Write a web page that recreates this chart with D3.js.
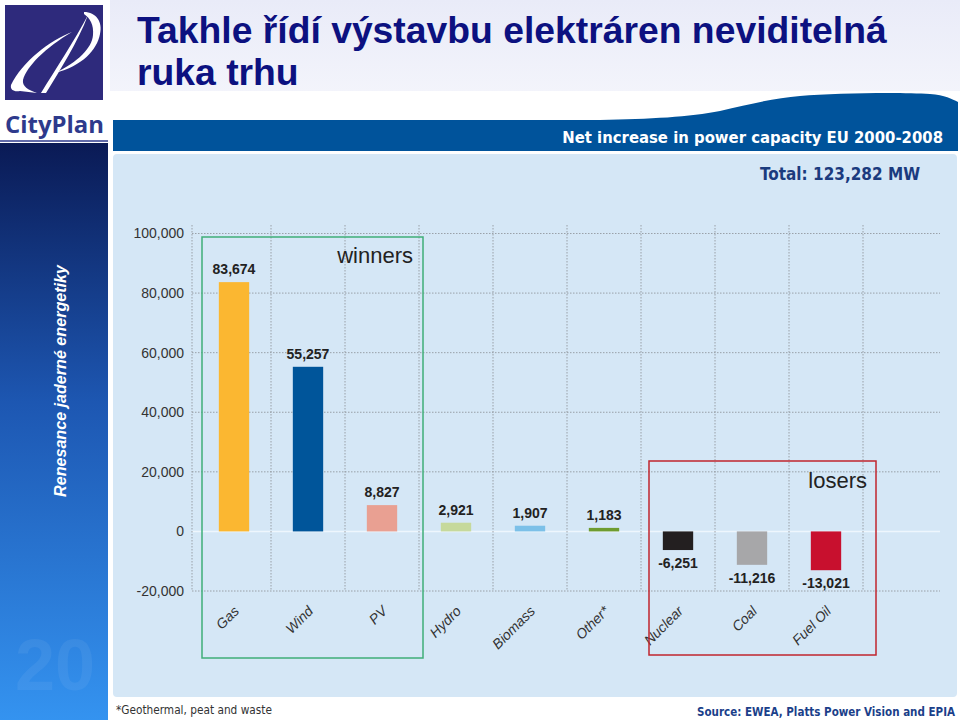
<!DOCTYPE html>
<html><head><meta charset="utf-8">
<script src="https://cdn.jsdelivr.net/npm/d3@7"></script>
<style>html,body{margin:0;padding:0;background:#fff;}svg{display:block;}</style>
</head><body>
<script>
const categories = ["Gas","Wind","PV","Hydro","Biomass","Other*","Nuclear","Coal","Fuel Oil"];
const values = [83674,55257,8827,2921,1907,1183,-6251,-11216,-13021];
const barColors = ["#fbb731","#00559a","#e9a092","#c6d99c","#7cc0e8","#6e9c2f","#231f20","#a7a7a9","#c8102e"];
const yTicks = [-20000,0,20000,40000,60000,80000,100000];
const titleLines = ["Takhle řídí výstavbu elektráren neviditelná","ruka trhu"];
const headerText = "Net increase in power capacity EU 2000-2008";
const totalText = "Total: 123,282 MW";
const footnote = "*Geothermal, peat and waste";
const sourceText = "Source: EWEA, Platts Power Vision and EPIA";
const sideText = "Renesance jaderné energetiky";

const fmt = d => d3.format(",")(d).replace("\u2212","-");
const W=960,H=720;
const svg=d3.select("body").append("svg").attr("width",W).attr("height",H);
const defs=svg.append("defs");
const sg=defs.append("linearGradient").attr("id","side").attr("x1",0).attr("y1",0).attr("x2",0).attr("y2",1);
sg.append("stop").attr("offset","0%").attr("stop-color","#0a1a55");
sg.append("stop").attr("offset","45%").attr("stop-color","#1d57b2");
sg.append("stop").attr("offset","100%").attr("stop-color","#3493f0");
const tg=defs.append("linearGradient").attr("id","topbg").attr("x1",0).attr("y1",0).attr("x2",0).attr("y2",1);
tg.append("stop").attr("offset","0%").attr("stop-color","#e9ebf8");
tg.append("stop").attr("offset","100%").attr("stop-color","#f3f4fb");

function fit(sel, target){
  const fs=parseFloat(sel.attr("font-size"));
  const len=sel.node().getComputedTextLength();
  if(len>0) sel.attr("font-size",(fs*target/len).toFixed(2));
  return sel;
}
const ARIAL="Arial,'Liberation Sans',sans-serif";
const COND="'DejaVu Sans Condensed','Liberation Sans Narrow',Arial,sans-serif";

// top background
svg.append("rect").attr("x",0).attr("y",0).attr("width",W).attr("height",92).attr("fill","url(#topbg)");
// logo
svg.append("rect").attr("x",0).attr("y",0).attr("width",110).attr("height",143).attr("fill","#ffffff");
svg.append("rect").attr("x",5).attr("y",5).attr("width",98).attr("height",95).attr("fill","#2e2a7c");
const lg=svg.append("g").attr("fill","#fff");
lg.append("path").attr("d","M72,32 C50,40 22,62 11,85 C10,90 14,92 20,91 L37,93 C28,90 22,86 23,80 C27,66 45,48 72,32 Z");
lg.append("path").attr("d","M88,15 C75,40 55,70 41,93 L46,93 C60,70 78,42 88,15 Z");
lg.append("path").attr("d","M84,12 C96,12 103,22 100,34 C97,50 82,66 55,73 C78,62 92,48 93,35 C94,25 90,18 84,14 Z");
svg.append("text").attr("x",5).attr("y",133).attr("font-family","'Open Sans',Lato,sans-serif").attr("font-weight","700").attr("font-size",27).attr("fill","#2e3a8c").text("CityPlan").call(s=>fit(s,99));
svg.append("line").attr("x1",0).attr("x2",108).attr("y1",141).attr("y2",141).attr("stroke","#2e3a8c").attr("stroke-width",1.5);

// sidebar
svg.append("rect").attr("x",0).attr("y",143).attr("width",108).attr("height",H-143).attr("fill","url(#side)");
svg.append("text").attr("x",55).attr("y",690).attr("text-anchor","middle").attr("font-family",ARIAL).attr("font-weight","700").attr("font-size",72).attr("fill","#ffffff").attr("fill-opacity",0.06).text("20");
svg.append("text").attr("transform","translate(66,381) rotate(-90)").attr("text-anchor","middle").attr("font-family",ARIAL).attr("font-weight","700").attr("font-style","italic").attr("font-size",16).attr("fill","#ffffff").text(sideText).call(s=>fit(s,232));

// title
const t1=svg.append("text").attr("x",137).attr("y",43).attr("font-family",ARIAL).attr("font-weight","700").attr("font-size",36).attr("fill","#0c1180").text(titleLines[0]);
fit(t1,750);
svg.append("text").attr("x",137).attr("y",85).attr("font-family",ARIAL).attr("font-weight","700").attr("font-size",t1.attr("font-size")).attr("fill","#0c1180").text(titleLines[1]);

// main image area
svg.append("rect").attr("x",110).attr("y",91).attr("width",850).attr("height",629).attr("fill","#ffffff");
svg.append("path").attr("d","M113,121 L600,120 C650,119 690,117 720,111 C750,104 775,98 800,96 C835,93 900,92 930,94 C945,95 952,99 958,102 L958,121 Z").attr("fill","#00539b");
svg.append("rect").attr("x",113).attr("y",120).attr("width",845).attr("height",31).attr("fill","#00539b");
svg.append("text").attr("x",943).attr("y",143).attr("text-anchor","end").attr("font-family",COND).attr("font-weight","700").attr("font-size",17).attr("fill","#ffffff").text(headerText).call(s=>fit(s,381));

// panel
svg.append("rect").attr("x",113).attr("y",154).attr("width",844).attr("height",543).attr("rx",4).attr("fill","#d5e7f6");
svg.append("text").attr("x",920).attr("y",180).attr("text-anchor","end").attr("font-family",COND).attr("font-weight","700").attr("font-size",19).attr("fill","#1b3b7e").text(totalText).call(s=>fit(s,160));

// scales
const x=d3.scaleBand().domain(categories).range([197,863]).padding(0);
const y=d3.scaleLinear().domain([-20000,100000]).range([591,233.5]);
const axisX=192, gridRight=940;

// horizontal gridlines
svg.append("g").selectAll("line").data(yTicks).join("line")
  .attr("x1",axisX).attr("x2",gridRight).attr("y1",d=>y(d)).attr("y2",d=>y(d))
  .attr("stroke",d=>d===0?"#eef6fd":"#8a8f96").attr("stroke-width",d=>d===0?1.5:0.8)
  .attr("stroke-dasharray",d=>d===0?null:"1.5,1.5");
// vertical gridlines: axis line and band boundaries
const bounds=[axisX].concat(categories.slice(1).map(c=>x(c))).concat([x(categories[categories.length-1])+x.bandwidth()]);
svg.append("g").selectAll("line").data(bounds).join("line")
  .attr("x1",d=>d).attr("x2",d=>d).attr("y1",225).attr("y2",y(-20000))
  .attr("stroke","#8a8f96").attr("stroke-width",0.8).attr("stroke-dasharray","1.5,1.5");

// y axis
const yAxis=d3.axisLeft(y).tickValues(yTicks).tickFormat(fmt).tickSize(0).tickPadding(8);
const ya=svg.append("g").attr("transform",`translate(${axisX},0)`).call(yAxis);
ya.select(".domain").remove();
ya.selectAll("text").attr("font-family",ARIAL).attr("font-size",14).attr("fill","#333");

// bars
const bw=x.bandwidth()*0.41;
const cx=c=>x(c)+x.bandwidth()/2;
svg.append("g").selectAll("rect").data(values).join("rect")
  .attr("x",(d,i)=>cx(categories[i])-bw/2)
  .attr("width",bw)
  .attr("y",d=>y(Math.max(0,d)))
  .attr("height",d=>Math.abs(y(d)-y(0)))
  .attr("fill",(d,i)=>barColors[i]);

// value labels
svg.append("g").selectAll("text").data(values).join("text")
  .attr("x",(d,i)=>cx(categories[i]))
  .attr("y",d=>d>=0?y(d)-8:y(d)+18)
  .attr("text-anchor","middle")
  .attr("font-family",ARIAL).attr("font-weight","700").attr("font-size",14).attr("fill","#222")
  .text(d=>fmt(d));

// x labels
svg.append("g").selectAll("text").data(categories).join("text")
  .attr("transform",c=>`translate(${cx(c)+6},612) rotate(-45)`)
  .attr("text-anchor","end")
  .attr("font-family",ARIAL).attr("font-style","italic").attr("font-size",14).attr("fill","#333")
  .text(c=>c);

// winners / losers boxes
const wL=x("Gas")+5, wR=x("PV")+x.bandwidth()+4;
svg.append("rect").attr("x",wL).attr("y",237).attr("width",wR-wL).attr("height",421)
  .attr("fill","none").attr("stroke","#3fae78").attr("stroke-width",1.5);
svg.append("text").attr("x",413).attr("y",263).attr("text-anchor","end").attr("font-family",ARIAL).attr("font-size",22).attr("fill","#222").text("winners");
const lL=x("Nuclear")+8, lR=x("Fuel Oil")+x.bandwidth()+13;
svg.append("rect").attr("x",lL).attr("y",461).attr("width",lR-lL).attr("height",194)
  .attr("fill","none").attr("stroke","#c0262e").attr("stroke-width",1.5);
svg.append("text").attr("x",867).attr("y",488).attr("text-anchor","end").attr("font-family",ARIAL).attr("font-size",22).attr("fill","#222").text("losers");

// footer
svg.append("text").attr("x",116).attr("y",714).attr("font-family",COND).attr("font-size",12).attr("fill","#333").text(footnote).call(s=>fit(s,156));
svg.append("text").attr("x",955).attr("y",716).attr("text-anchor","end").attr("font-family",COND).attr("font-weight","700").attr("font-size",13).attr("fill","#1b3f8a").text(sourceText).call(s=>fit(s,258));
</script>
</body></html>
